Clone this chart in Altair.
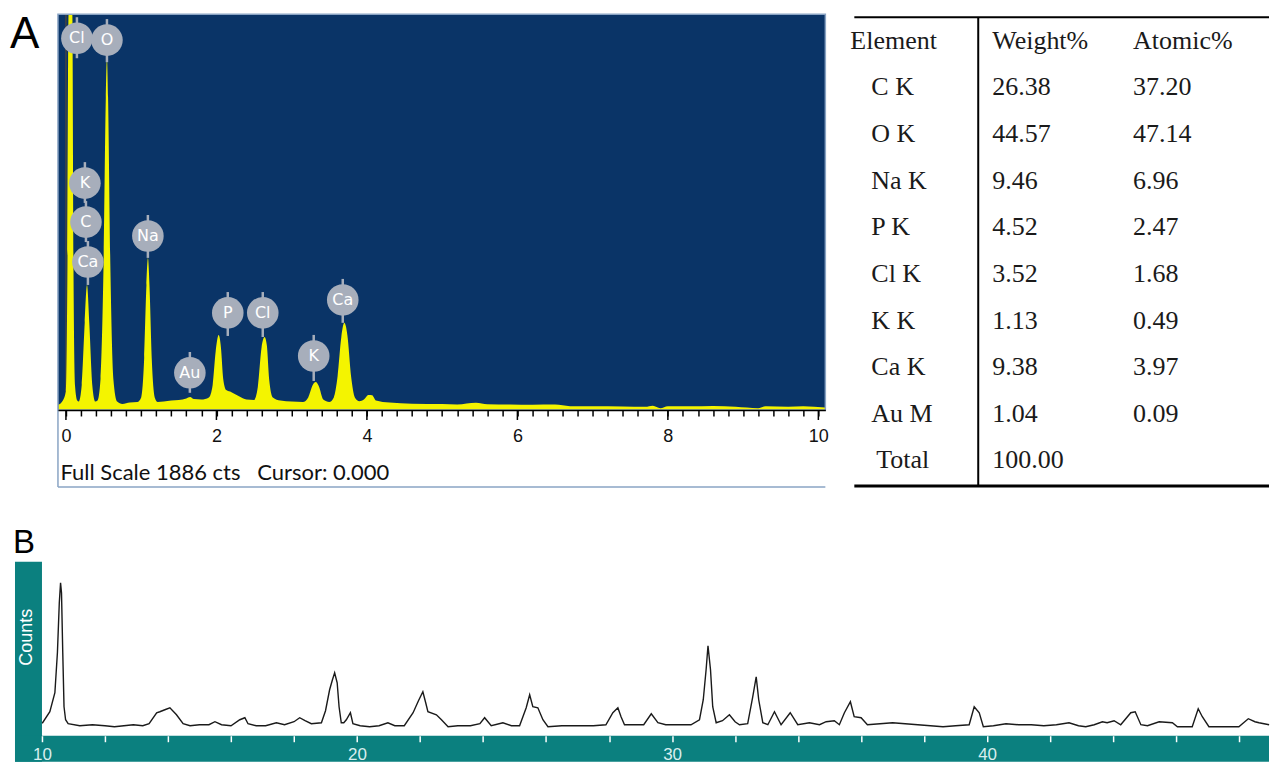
import altair as alt
import pandas as pd

# ---------------- Panel A : EDS spectrum ----------------
eds_kev = [-0.10, -0.05, 0.00, 0.02, 0.035, 0.085, 0.10, 0.12, 0.15, 0.17,
           0.21, 0.25, 0.28, 0.31, 0.35, 0.39, 0.42,
           0.46, 0.50, 0.53, 0.545, 0.56, 0.59, 0.63, 0.68,
           0.75, 0.85, 0.95, 1.00, 1.04, 1.07, 1.09, 1.11, 1.14, 1.18, 1.22,
           1.30, 1.40, 1.50, 1.60, 1.65, 1.70, 1.80, 1.90,
           1.95, 1.99, 2.03, 2.06, 2.09, 2.13, 2.20, 2.30, 2.40, 2.50,
           2.55, 2.60, 2.64, 2.67, 2.70, 2.75, 2.85, 3.00, 3.15,
           3.22, 3.28, 3.32, 3.36, 3.42, 3.50,
           3.56, 3.61, 3.66, 3.70, 3.74, 3.79, 3.84, 3.90,
           3.96, 4.02, 4.07, 4.12, 4.30, 4.60, 5.00,
           5.20, 5.45, 5.60, 5.90, 6.20, 6.50, 6.70, 7.00, 7.40, 7.70, 7.80, 7.90,
           8.00, 8.30, 8.60, 8.90, 9.20, 9.30, 9.60, 9.80, 10.09]
eds_cts = [25, 40, 90, 700, 2600, 2600, 700, 120, 45, 40,
           120, 420, 600, 420, 120, 40, 45,
           150, 700, 1500, 1690, 1500, 700, 150, 40,
           28, 35, 38, 60, 250, 600, 730, 600, 250, 60, 38,
           40, 45, 48, 55, 62, 52, 50, 60,
           120, 280, 360, 300, 150, 95, 85, 65, 50, 48,
           110, 300, 350, 310, 150, 60, 45, 40, 38,
           60, 120, 134, 115, 50, 38,
           60, 160, 350, 418, 360, 160, 60, 42,
           50, 72, 70, 45, 35, 30, 28,
           26, 34, 27, 26, 25, 26, 18, 17, 16, 15, 20, 8,
           18, 17, 19, 15, 8, 18, 15, 18, 12]
cursor_kev = [0.0]

peak_names = ["Cl", "O", "K", "C", "Ca", "Na", "Au", "P", "Cl", "K", "Ca"]
peak_kev = [0.146, 0.545, 0.252, 0.266, 0.292, 1.089, 1.647, 2.151, 2.616, 3.293, 3.679]
peak_cts = [1785, 1776, 1089, 902, 710, 835, 178, 466, 466, 259, 528]
stem_top = [1886, 1877, 1190, 1003, 811, 936, 278, 566, 566, 360, 629]
stem_bot = [1689, 1670, 994, 806, 600, 730, 82, 355, 350, 139, 418]

eds_ticks = [round(0.2 * i, 1) for i in range(51)]
eds_major = [0, 2, 4, 6, 8, 10]

# ---------------- Table ----------------
elements = ["C K", "O K", "Na K", "P K", "Cl K", "K K", "Ca K", "Au M"]
weight_pct = [26.38, 44.57, 9.46, 4.52, 3.52, 1.13, 9.38, 1.04]
atomic_pct = [37.20, 47.14, 6.96, 2.47, 1.68, 0.49, 3.97, 0.09]
weight_total = 100.00
headers = ["Element", "Weight%", "Atomic%"]

# ---------------- Panel B : XRD pattern ----------------
xrd_2theta = [10.00, 10.02, 10.25, 10.41, 10.49, 10.55, 10.59, 10.62, 10.66, 10.70, 10.75, 10.83,
              11.2, 11.6, 12.0, 12.3, 12.6, 12.9, 13.2, 13.4,
              13.64, 13.74, 13.9, 14.06, 14.27, 14.48, 14.7, 15.0, 15.3, 15.49, 15.7, 16.0,
              16.28, 16.44, 16.54, 16.8, 17.1, 17.44, 17.7, 18.0, 18.18, 18.35, 18.55, 18.87,
              19.0, 19.13, 19.22, 19.29, 19.37, 19.43, 19.50, 19.58, 19.66, 19.79, 19.87,
              20.1, 20.4, 20.7, 20.98, 21.2, 21.5, 21.78, 21.95, 22.09, 22.18, 22.25, 22.52,
              22.68, 22.89, 23.2, 23.6, 23.9, 24.05, 24.26, 24.63, 24.9, 25.16, 25.37, 25.48,
              25.58, 25.74, 25.9, 26.06, 26.5, 27.0, 27.5, 27.9, 28.12, 28.28, 28.38, 28.49,
              28.8, 29.1, 29.34, 29.55, 29.8, 30.2, 30.6, 30.87, 30.99, 31.08, 31.14, 31.22,
              31.29, 31.40, 31.6, 31.82, 32.0, 32.14, 32.4, 32.56, 32.67, 32.75, 32.88, 33.04,
              33.25, 33.46, 33.75, 33.99, 34.36, 34.68, 34.89, 35.15, 35.31, 35.47, 35.66,
              35.78, 36.0, 36.2, 36.6, 37.0, 37.4, 37.8, 38.2, 38.6, 39.0, 39.43, 39.59,
              39.75, 39.88, 40.2, 40.6, 41.0, 41.4, 41.8, 42.2, 42.6, 42.9, 43.13, 43.4,
              43.66, 43.81, 44.03, 44.24, 44.56, 44.7, 44.88, 45.09, 45.46, 45.88, 46.04,
              46.51, 46.70, 46.83, 47.04, 47.5, 47.99, 48.29, 48.5, 48.63, 48.95]
xrd_counts = [13, 13, 24, 43, 83, 133, 153, 143, 83, 29, 16, 12,
              10, 11, 10, 9, 10, 11, 10, 12,
              23, 24, 26, 28, 21, 12, 10, 11, 11, 14, 11, 10,
              16, 18, 12, 10, 10, 13, 11, 14, 18, 15, 12, 13,
              25, 46, 56, 63, 53, 29, 13, 13, 16, 23, 12,
              10, 9, 10, 13, 10, 10, 23, 35, 44, 33, 24, 21,
              16, 9, 10, 10, 12, 18, 10, 13, 10, 10, 28, 41,
              29, 28, 16, 9, 10, 10, 10, 11, 23, 28, 19, 11,
              11, 11, 22, 13, 11, 11, 11, 16, 36, 66, 90, 66,
              29, 13, 15, 21, 14, 11, 12, 39, 59, 36, 13, 11,
              24, 11, 23, 11, 13, 11, 14, 15, 11, 23, 34,
              19, 18, 11, 12, 13, 12, 11, 10, 9, 10, 11, 29,
              23, 9, 10, 12, 11, 11, 10, 11, 13, 10, 9, 11,
              14, 13, 15, 11, 23, 24, 11, 10, 14, 13, 9,
              9, 27, 19, 9, 9, 9, 17, 14, 13, 11]
xrd_ticks = list(range(10, 49, 2))

# ---------------- colours ----------------
NAVY = "#0a3467"
YELLOW = "#f4f400"
GREY = "#a7aebb"
TEAL = "#0b807f"
FRAME = "#8aa4c4"
SERIF = "Liberation Serif, Times New Roman, DejaVu Serif, serif"

one = pd.DataFrame({"k": [0]})
W = 1255                            # full width of both rows (px)

# ---------------- top row: Panel A (EDS) + table, one layered chart ----------------
A_LEFT, A_RIGHT = 43, 811          # EDS frame inside the top row (px)
eds_df = pd.DataFrame({"keV": eds_kev, "cts": eds_cts})
cur_df = pd.DataFrame({"keV": cursor_kev})
maj_df = pd.DataFrame({"keV": eds_major})
lab_df = pd.DataFrame({"name": peak_names, "keV": peak_kev, "cts": peak_cts,
                       "top": stem_top, "bot": stem_bot})

xA = alt.Scale(domain=[-0.106, 10.093], range=[A_LEFT, A_RIGHT], nice=False, zero=False)
yA = alt.Scale(domain=[-370, 1900], nice=False, zero=False, clamp=True)

even = "abs(datum.value - 2*round(datum.value/2)) < 0.01"
xA_axis = alt.Axis(
    values=eds_ticks, orient="bottom", offset=-77, grid=False, zindex=1,
    domainColor="black", domainWidth=1.5, tickColor="black", tickWidth=1.5, tickSize=6,
    labelExpr=even + " ? format(datum.value, 'd') : ''",
    labelFont="Liberation Sans", labelFontSize=18, labelColor="#111111",
    labelPadding=12, labelFlush=False, labelOverlap=False,
    title="Full Scale 1886 cts\u00a0\u00a0\u00a0Cursor: 0.000", titleFont="Lato", titleFontSize=22,
    titleFontWeight="normal", titleColor="#111111", titleX=A_LEFT + 2, titleY=70,
    titleAnchor="start", titleAlign="left", titleBaseline="alphabetic")

XA = lambda f: alt.X(f, type="quantitative", scale=xA, axis=xA_axis)
YA = lambda f: alt.Y(f, type="quantitative", scale=yA, axis=None)

bg_blue = alt.Chart(one).mark_rect(color=NAVY).encode(
    x=alt.value(A_LEFT), x2=alt.value(A_RIGHT), y=alt.value(0), y2=alt.value(396))
frame_blue = alt.Chart(one).mark_rect(filled=False, stroke=FRAME, strokeWidth=1.5).encode(
    x=alt.value(A_LEFT), x2=alt.value(A_RIGHT), y=alt.value(0), y2=alt.value(396))
frame_left = alt.Chart(one).mark_rule(color=FRAME, strokeWidth=1.5).encode(
    x=alt.value(A_LEFT), y=alt.value(396), y2=alt.value("height"))
frame_bottom = alt.Chart(one).mark_rule(color=FRAME, strokeWidth=1.5).encode(
    x=alt.value(A_LEFT), x2=alt.value(A_RIGHT), y=alt.value("height"))
cursor = alt.Chart(cur_df).mark_rule(color="#444444", strokeWidth=1.5).encode(
    x=XA("keV"), y=alt.value(0), y2=alt.value(396))
major_ticks = alt.Chart(maj_df).mark_rule(color="black", strokeWidth=1.5).encode(
    x=XA("keV"), y=alt.value(396), y2=alt.value(406))
spectrum = alt.Chart(eds_df).mark_area(color=YELLOW, interpolate="monotone", clip=True).encode(
    x=XA("keV"), y=YA("cts"))
stems = alt.Chart(lab_df).mark_rule(color=GREY, strokeWidth=2.5).encode(
    x=XA("keV"), y=YA("top"), y2="bot:Q")
circles = alt.Chart(lab_df).mark_point(shape="circle", filled=True, size=1000,
                                        color=GREY, opacity=1).encode(x=XA("keV"), y=YA("cts"))
ctext = alt.Chart(lab_df).mark_text(color="white", font="DejaVu Sans", fontSize=16,
                                     baseline="middle", align="center").encode(
    x=XA("keV"), y=YA("cts"), text="name:N")
letterA = alt.Chart(one).mark_text(text="A", font="Liberation Sans", fontSize=44,
                                    align="left", baseline="top", color="black").encode(
    x=alt.value(-5), y=alt.value(-1))

edsLayer = alt.layer(bg_blue, cursor, spectrum, major_ticks, stems, circles, ctext,
                     frame_blue, frame_left, frame_bottom, letterA)

# table
T0 = 840                            # table left edge inside the top row (px)
rows = [headers[0]] + elements + ["Total"]
wcol = [headers[1]] + [f"{v:.2f}" for v in weight_pct] + [f"{weight_total:.2f}"]
acol = [headers[2]] + [f"{v:.2f}" for v in atomic_pct] + [""]
tab_df = pd.DataFrame({"row": rows, "w": wcol, "a": acol})

yT = alt.Y("row:N", sort=rows, scale=alt.Scale(type="point", domain=rows, padding=0.567), axis=None)
tfont = dict(font=SERIF, fontSize=26, color="#1a1a1a", baseline="middle", align="left")
tbase = alt.Chart(tab_df)
t_head = tbase.transform_filter(alt.datum.row == "Element").mark_text(**tfont).encode(
    y=yT, x=alt.value(T0 - 4), text="row:N")
t_total = tbase.transform_filter(alt.datum.row == "Total").mark_text(**tfont).encode(
    y=yT, x=alt.value(T0 + 22), text="row:N")
t_elem = tbase.transform_filter("datum.row != 'Element' && datum.row != 'Total'").mark_text(**tfont).encode(
    y=yT, x=alt.value(T0 + 17), text="row:N")
t_w = tbase.mark_text(**tfont).encode(y=yT, x=alt.value(T0 + 138), text="w:N")
t_a = tbase.mark_text(**tfont).encode(y=yT, x=alt.value(T0 + 279), text="a:N")
line_top = alt.Chart(one).mark_rule(color="black", strokeWidth=2).encode(
    x=alt.value(T0), x2=alt.value("width"), y=alt.value(3))
line_bot = alt.Chart(one).mark_rule(color="black", strokeWidth=3).encode(
    x=alt.value(T0), x2=alt.value("width"), y=alt.value(472))
line_mid = alt.Chart(one).mark_rule(color="black", strokeWidth=2).encode(
    x=alt.value(T0 + 124), y=alt.value(3), y2=alt.value(473))

tableLayer = alt.layer(line_top, line_bot, line_mid, t_head, t_elem, t_total, t_w, t_a)

topRow = alt.layer(edsLayer, tableLayer).resolve_scale(y="independent").properties(
    width=W, height=473)

# ---------------- Panel B : XRD ----------------
xrd_df = pd.DataFrame({"t": xrd_2theta, "c": xrd_counts})
xB = alt.Scale(domain=[9.1437, 9.1437 + W / 31.53], nice=False, zero=False)
yB = alt.Scale(domain=[-26, 174], nice=False, zero=False)

xB_axis = alt.Axis(values=xrd_ticks, orient="bottom", offset=-26, domain=False, grid=False, zindex=1,
                   tickColor="white", tickSize=6, tickWidth=1.5,
                   labelExpr="datum.value % 10 == 0 ? datum.label : ''",
                   labelColor="#d8eeee", labelFont="Liberation Sans", labelFontSize=17,
                   labelPadding=5, labelFlush=False, labelOverlap=False, title="")
yB_axis = alt.Axis(orient="left", domain=False, ticks=False, labels=False, grid=False, zindex=1,
                   title="Counts", titleColor="white", titleFont="Liberation Sans",
                   titleFontSize=18, titleFontWeight="normal", titleAngle=270,
                   titleX=12, titleY=75, titleAlign="center", titleBaseline="middle")

teal_left = alt.Chart(one).mark_rect(color=TEAL).encode(
    x=alt.value(0), x2=alt.value(27), y=alt.value(0), y2=alt.value("height"))
teal_bottom = alt.Chart(one).mark_rect(color=TEAL).encode(
    x=alt.value(0), x2=alt.value("width"), y=alt.value(174), y2=alt.value("height"))
xrd_line = alt.Chart(xrd_df).mark_line(color="#1a1a1a", strokeWidth=1.4).encode(
    x=alt.X("t:Q", scale=xB, axis=xB_axis),
    y=alt.Y("c:Q", scale=yB, axis=yB_axis))
letterB = alt.Chart(one).mark_text(text="B", font="Liberation Sans", fontSize=33,
                                    align="left", baseline="alphabetic", color="black").encode(
    x=alt.value(-2), y=alt.value(-9))

panelB = alt.layer(teal_left, teal_bottom, xrd_line, letterB).properties(width=W, height=200)

chart = alt.vconcat(topRow, panelB, spacing=75, bounds="flush").properties(
    padding={"left": 2, "top": 5, "right": 0, "bottom": 0}
).configure(background="white").configure_view(strokeWidth=0)

chart.save("out.html", embed_options={"renderer": "svg", "actions": False})
